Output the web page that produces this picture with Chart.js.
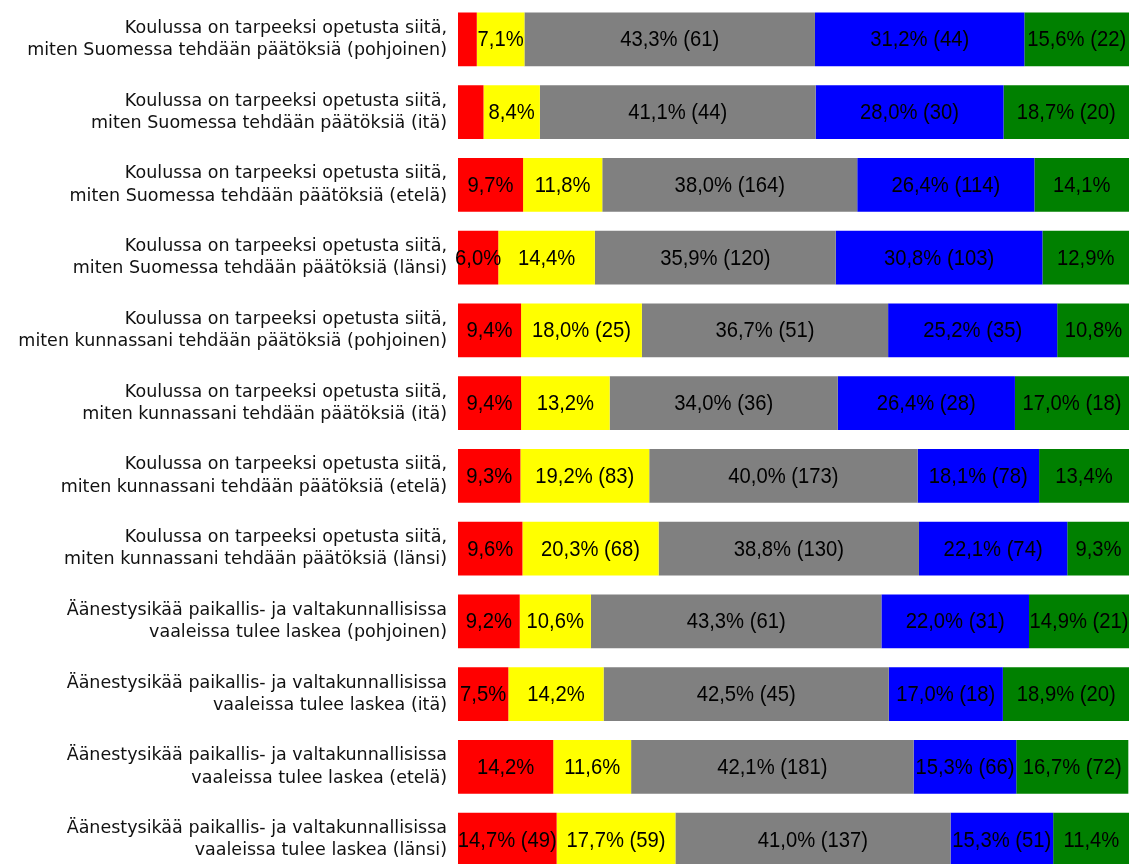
<!DOCTYPE html>
<html>
<head>
<meta charset="utf-8">
<script src="https://cdn.jsdelivr.net/npm/chart.js@4"></script>
<style>
  body { margin: 0; overflow: hidden; background: #fff; }
  #wrap { width: 1129px; height: 878px; }
</style>
</head>
<body>
<div id="wrap"><canvas id="myChart"></canvas></div>
<script>
var categories = [
    ['Koulussa on tarpeeksi opetusta siitä,', 'miten Suomessa tehdään päätöksiä (pohjoinen)'],
    ['Koulussa on tarpeeksi opetusta siitä,', 'miten Suomessa tehdään päätöksiä (itä)'],
    ['Koulussa on tarpeeksi opetusta siitä,', 'miten Suomessa tehdään päätöksiä (etelä)'],
    ['Koulussa on tarpeeksi opetusta siitä,', 'miten Suomessa tehdään päätöksiä (länsi)'],
    ['Koulussa on tarpeeksi opetusta siitä,', 'miten kunnassani tehdään päätöksiä (pohjoinen)'],
    ['Koulussa on tarpeeksi opetusta siitä,', 'miten kunnassani tehdään päätöksiä (itä)'],
    ['Koulussa on tarpeeksi opetusta siitä,', 'miten kunnassani tehdään päätöksiä (etelä)'],
    ['Koulussa on tarpeeksi opetusta siitä,', 'miten kunnassani tehdään päätöksiä (länsi)'],
    ['Äänestysikää paikallis- ja valtakunnallisissa', 'vaaleissa tulee laskea (pohjoinen)'],
    ['Äänestysikää paikallis- ja valtakunnallisissa', 'vaaleissa tulee laskea (itä)'],
    ['Äänestysikää paikallis- ja valtakunnallisissa', 'vaaleissa tulee laskea (etelä)'],
    ['Äänestysikää paikallis- ja valtakunnallisissa', 'vaaleissa tulee laskea (länsi)']
];

// percentages per answer option
var red    = [2.8, 3.8, 9.7, 6.0, 9.4, 9.4, 9.3, 9.6, 9.2, 7.5, 14.2, 14.7];
var yellow = [7.1, 8.4, 11.8, 14.4, 18.0, 13.2, 19.2, 20.3, 10.6, 14.2, 11.6, 17.7];
var gray   = [43.3, 41.1, 38.0, 35.9, 36.7, 34.0, 40.0, 38.8, 43.3, 42.5, 42.1, 41.0];
var blue   = [31.2, 28.0, 26.4, 30.8, 25.2, 26.4, 18.1, 22.1, 22.0, 17.0, 15.3, 15.3];
var green  = [15.6, 18.7, 14.1, 12.9, 10.8, 17.0, 13.4, 9.3, 14.9, 18.9, 16.7, 11.4];

// counts shown in the labels (null = not shown)
var redN    = [null, null, null, null, null, null, null, null, null, null, null, 49];
var yellowN = [null, null, null, null, 25, null, 83, 68, null, null, null, 59];
var grayN   = [61, 44, 164, 120, 51, 36, 173, 130, 61, 45, 181, 137];
var blueN   = [44, 30, 114, 103, 35, 28, 78, 74, 31, 18, 66, 51];
var greenN  = [22, 20, null, null, null, 18, null, null, 21, 20, 72, null];

var segLabels = {
    id: 'segLabels',
    afterDatasetsDraw(chart) {
        var ctx = chart.ctx;
        chart.data.datasets.forEach(function (ds, i) {
            var meta = chart.getDatasetMeta(i);
            meta.data.forEach(function (bar, j) {
                var v = ds.data[j];
                if (v < 5) return;
                var txt = v.toFixed(1).replace('.', ',') + '%';
                if (ds.counts[j] != null) txt += ' (' + ds.counts[j] + ')';
                ctx.save();
                ctx.font = '22px "Liberation Sans", Arial, sans-serif';
                ctx.fillStyle = '#000';
                ctx.textAlign = 'center';
                ctx.textBaseline = 'middle';
                // labels in the original are slightly condensed
                ctx.translate((bar.x + bar.base) / 2, bar.y + 1);
                ctx.scale(0.92, 1);
                ctx.fillText(txt, 0, 0);
                ctx.restore();
            });
        });
    }
};

var ctx = document.getElementById('myChart').getContext('2d');
var myChart = new Chart(ctx, {
    type: 'bar',
    data: {
        labels: categories,
        datasets: [
            { data: red, counts: redN, backgroundColor: '#ff0000' },
            { data: yellow, counts: yellowN, backgroundColor: '#ffff00' },
            { data: gray, counts: grayN, backgroundColor: '#808080' },
            { data: blue, counts: blueN, backgroundColor: '#0000ff' },
            { data: green, counts: greenN, backgroundColor: '#008000' }
        ]
    },
    options: {
        indexAxis: 'y',
        responsive: true,
        maintainAspectRatio: false,
        animation: false,
        layout: { padding: { top: 3, bottom: 2, left: 0, right: 0 } },
        datasets: { bar: { barPercentage: 0.74, categoryPercentage: 1 } },
        plugins: { legend: { display: false }, tooltip: { enabled: false } },
        scales: {
            x: { stacked: true, min: 0, max: 100, display: false },
            y: {
                stacked: true,
                grid: { display: false },
                border: { display: false },
                ticks: {
                    color: '#111',
                    padding: 3,
                    font: { family: 'DejaVu Sans', size: 17.5, lineHeight: 1.27 }
                },
                afterFit: function (scale) {
                    scale.width = 458;
                    scale.paddingTop = 0;
                    scale.paddingBottom = 0;
                }
            }
        }
    },
    plugins: [segLabels]
});
</script>
</body>
</html>
